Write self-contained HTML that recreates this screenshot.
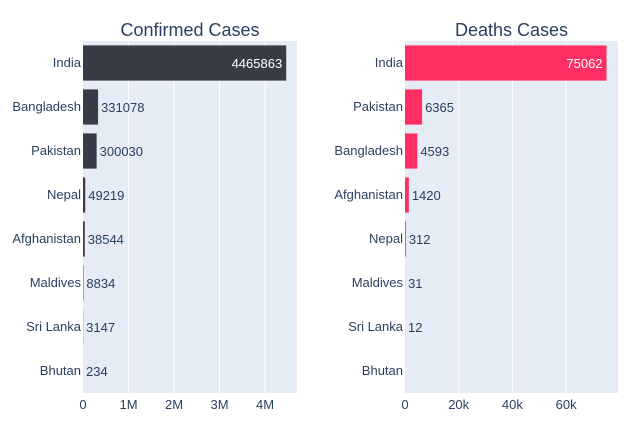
<!DOCTYPE html>
<html><head><meta charset="utf-8"><style>
body{margin:0;background:#fff;font-family:"Liberation Sans","DejaVu Sans",sans-serif}
svg text{font-family:"Liberation Sans","DejaVu Sans",sans-serif}
</style></head><body>
<svg id="c" width="638" height="418" xmlns="http://www.w3.org/2000/svg"></svg>
<script>
const confCats=["India","Bangladesh","Pakistan","Nepal","Afghanistan","Maldives","Sri Lanka","Bhutan"];
const confVals=[4465863,331078,300030,49219,38544,8834,3147,234];
const confTicks=[0,1000000,2000000,3000000,4000000];
const confTickLabels=["0","1M","2M","3M","4M"];
const deathCats=["India","Pakistan","Bangladesh","Afghanistan","Nepal","Maldives","Sri Lanka","Bhutan"];
const deathVals=[75062,6365,4593,1420,312,31,12,null];
const deathTicks=[0,20000,40000,60000];
const deathTickLabels=["0","20k","40k","60k"];
const NS="http://www.w3.org/2000/svg";
const svg=document.getElementById('c');
function mk(t,a,p){const e=document.createElementNS(NS,t);for(const k in a)e.setAttribute(k,a[k]);(p||svg).appendChild(e);return e;}
function panel(key,title,cats,vals,ticks,labels,x0,x1,xmax,color){
  const y0=41,y1=393,band=(y1-y0)/cats.length;
  const g=mk('g',{});
  
  
  const xs=v=>x0+(v/xmax)*(x1-x0);
  const bg=mk('rect',{x:x0,y:y0,width:x1-x0,height:y1-y0,fill:'#e5ecf6'},g);
  
  
  ticks.forEach((t,i)=>{
    if(t>0){const l=mk('line',{x1:xs(t),x2:xs(t),y1:y0,y2:y1,stroke:'#fff','stroke-width':1},g);
      
      }
    const tx=mk('text',{x:xs(t),y:409,'text-anchor':'middle','font-size':13,fill:'#2a3f5f'},g);
    tx.textContent=labels[i];
    
    
  });
  const tt=mk('text',{x:(x0+x1)/2,y:36,'text-anchor':'middle','font-size':18,fill:'#2a3f5f'},g);
  tt.textContent=title;
  
  
  cats.forEach((c,i)=>{
    const cy=y0+band*(i+0.5);
    const lab=mk('text',{x:x0-2,y:cy+4,'text-anchor':'end','font-size':13,fill:'#2a3f5f'},g);
    lab.textContent=c;
    
    
    const v=vals[i];
    if(v==null)return;
    const bw=Math.max(xs(v)-x0,0);
    const r=mk('rect',{x:x0,y:cy-band*0.4,width:bw,height:band*0.8,fill:color},g);
    
    
    const inside=bw>100;
    const vt=mk('text',{x:inside?xs(v)-4:xs(v)+3,y:cy+5,'text-anchor':inside?'end':'start','font-size':13,fill:inside?'#fff':'#2a3f5f'},g);
    vt.textContent=v;
    
    
  });
}
panel('confirmed','Confirmed Cases',confCats,confVals,confTicks,confTickLabels,83,297,4703000,'#383c45');
panel('deaths','Deaths Cases',deathCats,deathVals,deathTicks,deathTickLabels,405,618,79330,'#ff2e63');
</script>
</body></html>
